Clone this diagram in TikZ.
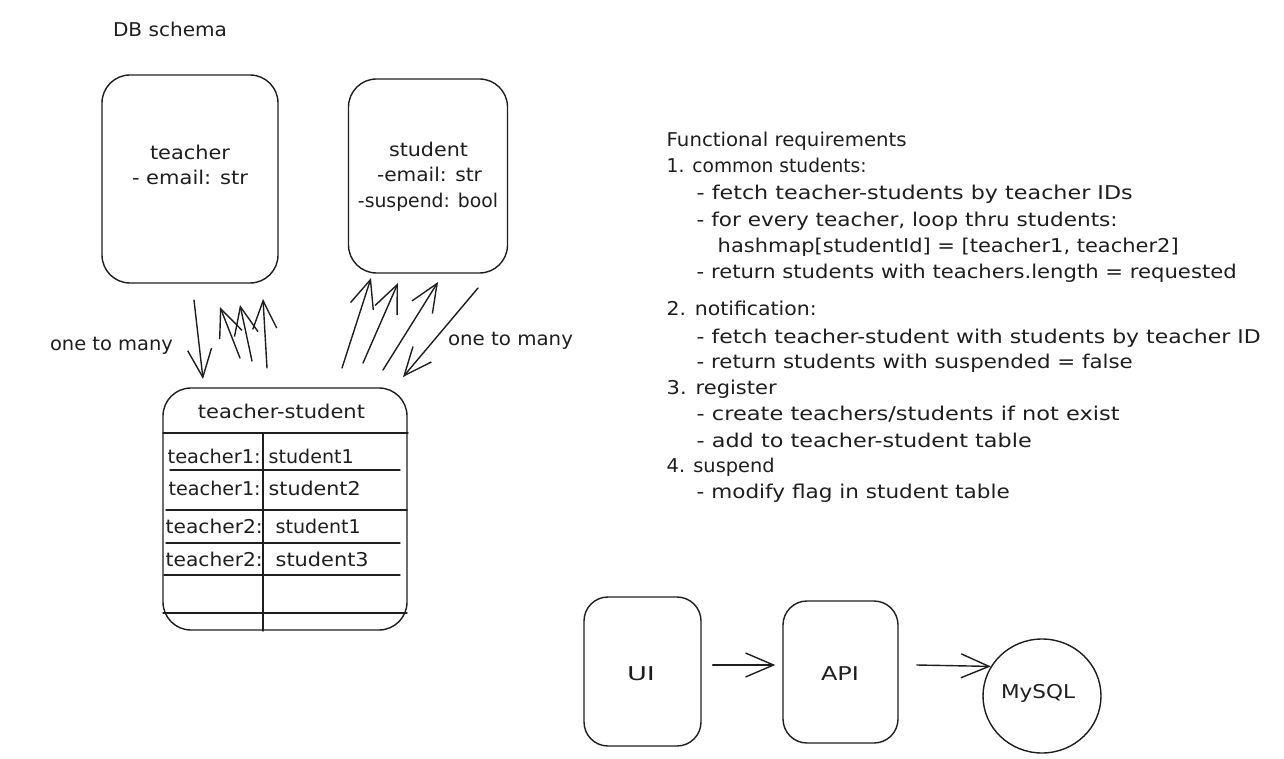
\documentclass[tikz,border=0pt]{standalone}
\usepackage{fontspec}
\setmainfont{DejaVu Sans}
\usetikzlibrary{arrows.meta,shapes.geometric}
\definecolor{ink}{HTML}{1E1E1E}
\newcommand{\tw}[2]{\resizebox{#1pt}{\height}{#2}}
\begin{document}
\begin{tikzpicture}[x=1pt,y=-1pt,
  line width=1.4pt, draw=ink, line join=round, line cap=round,
  box/.style={draw=ink, line width=1.4pt, rounded corners=28pt, inner sep=0pt},
  rbox/.style={draw=ink, line width=1.4pt, rounded corners=24pt, inner sep=0pt},
  circ/.style={draw=ink, line width=1.4pt, ellipse, inner sep=0pt},
  txt/.style={text=ink, inner sep=0pt, font=\fontsize{19}{23}\selectfont},
  arr/.style={draw=ink, line width=1.4pt, -{Straight Barb[length=28pt,width=24pt,line width=1.4pt]}},
  tline/.style={draw=ink, line width=1.4pt}
]
\useasboundingbox (0,0) rectangle (1284,759);

% title
\node[txt, anchor=base] (title) at (170,37) {\tw{114}{DB schema}};

% entity boxes
\node[box, minimum width=176pt, minimum height=208pt] (teacher) at (190,179) {};
\node[txt, anchor=base] (tname) at (190,160) {\tw{80}{teacher}};
\node[txt, anchor=base] (tmail) at (190,185) {\tw{116}{- email: str}};

\node[box, minimum width=159pt, minimum height=194pt] (student) at (428,176) {};
\node[txt, anchor=base] (sname) at (428.5,157) {\tw{79}{student}};
\node[txt, anchor=base] (smail) at (429.5,182) {\tw{105}{-email: str}};
\node[txt, anchor=base] (ssusp) at (428,208) {\tw{140}{-suspend: bool}};

% join table
\node[box, minimum width=244pt, minimum height=242pt] (ts) at (285,509) {};
\node[txt, anchor=base] (tstitle) at (281.5,418) {\tw{167}{teacher-student}};
\draw[tline] (163,433) -- (408,433);
\draw[tline] (263,433) -- (263,631);
\draw[tline] (170,470) -- (400,470);
\draw[tline] (166,510) -- (407,510);
\draw[tline] (166,543) -- (400,543);
\draw[tline] (164,575) -- (400,575);
\draw[tline] (163,613) -- (407,613);
\node[txt, anchor=base west] (r1a) at (167,463) {\tw{93}{teacher1:}};
\node[txt, anchor=base west] (r1b) at (268,463) {\tw{85}{student1}};
\node[txt, anchor=base west] (r2a) at (168,495) {\tw{92}{teacher1:}};
\node[txt, anchor=base west] (r2b) at (268,495) {\tw{92}{student2}};
\node[txt, anchor=base west] (r3a) at (165,533) {\tw{97}{teacher2:}};
\node[txt, anchor=base west] (r3b) at (275,533) {\tw{85}{student1}};
\node[txt, anchor=base west] (r4a) at (165,566) {\tw{97}{teacher2:}};
\node[txt, anchor=base west] (r4b) at (275,566) {\tw{93}{student3}};

% relation arrows (teacher side)
\coordinate (a1s) at (194,300); \coordinate (a1e) at (203,379);
\coordinate (a2s) at (240,358); \coordinate (a2e) at (220,307);
\coordinate (a3s) at (252,361); \coordinate (a3e) at (240,305);
\coordinate (a4s) at (267,368); \coordinate (a4e) at (263,299);
\draw[arr] (a1s) -- (a1e);
\draw[arr] (a2s) -- (a2e);
\draw[arr] (a3s) -- (a3e);
\draw[arr] (a4s) -- (a4e);
\node[txt, anchor=base] (lbl1) at (111.5,350) {\tw{123}{one to many}};

% relation arrows (student side)
\coordinate (b1s) at (342,368); \coordinate (b1e) at (371,278);
\coordinate (b2s) at (363,363); \coordinate (b2e) at (398,283);
\coordinate (b3s) at (383,370); \coordinate (b3e) at (438,282);
\coordinate (b4s) at (478,288); \coordinate (b4e) at (403,377);
\draw[arr] (b1s) -- (b1e);
\draw[arr] (b2s) -- (b2e);
\draw[arr] (b3s) -- (b3e);
\draw[arr] (b4s) -- (b4e);
\node[txt, anchor=base] (lbl2) at (510.5,345) {\tw{125}{one to many}};

% requirements
\node[txt, anchor=base west] (f0) at (666,147) {\tw{240}{Functional requirements}};
\node[txt, anchor=base west] (f1) at (666,173) {\tw{200}{1. common students:}};
\node[txt, anchor=base west] (f2) at (696,200) {\tw{436}{- fetch teacher-students by teacher IDs}};
\node[txt, anchor=base west] (f3) at (696,227) {\tw{421}{- for every teacher, loop thru students:}};
\node[txt, anchor=base west] (f4) at (717,252) {\tw{461}{hashmap[studentId] = [teacher1, teacher2]}};
\node[txt, anchor=base west] (f5) at (696,278) {\tw{540}{- return students with teachers.length = requested}};
\node[txt, anchor=base west] (f6) at (666,315) {\tw{150}{2. notification:}};
\node[txt, anchor=base west] (f7) at (696,343) {\tw{564}{- fetch teacher-student with students by teacher ID}};
\node[txt, anchor=base west] (f8) at (696,368) {\tw{436}{- return students with suspended = false}};
\node[txt, anchor=base west] (f9) at (666,394) {\tw{110}{3. register}};
\node[txt, anchor=base west] (f10) at (696,420) {\tw{423}{- create teachers/students if not exist}};
\node[txt, anchor=base west] (f11) at (696,447) {\tw{335}{- add to teacher-student table}};
\node[txt, anchor=base west] (f12) at (666,472) {\tw{108}{4. suspend}};
\node[txt, anchor=base west] (f13) at (696,498) {\tw{313}{- modify flag in student table}};

% architecture
\node[rbox, minimum width=117pt, minimum height=149pt] (ui) at (642.5,671.5) {};
\node[txt, anchor=base] (uit) at (641,680) {\tw{28}{UI}};
\node[rbox, minimum width=115pt, minimum height=142pt] (api) at (840.5,672) {};
\node[txt, anchor=base] (apit) at (840,680) {\tw{38}{API}};
\node[circ, minimum width=118pt, minimum height=114pt] (mysql) at (1042,696) {};
\node[txt, anchor=base] (mysqlt) at (1038,698) {\tw{74}{MySQL}};
\draw[arr] ([shift={(11,-6.5)}]ui.east) -- ([shift={(-7,-7)}]api.west);
\draw[arr] ([shift={(18,-7)}]api.east) -- (mysql.150);
\end{tikzpicture}
\end{document}
